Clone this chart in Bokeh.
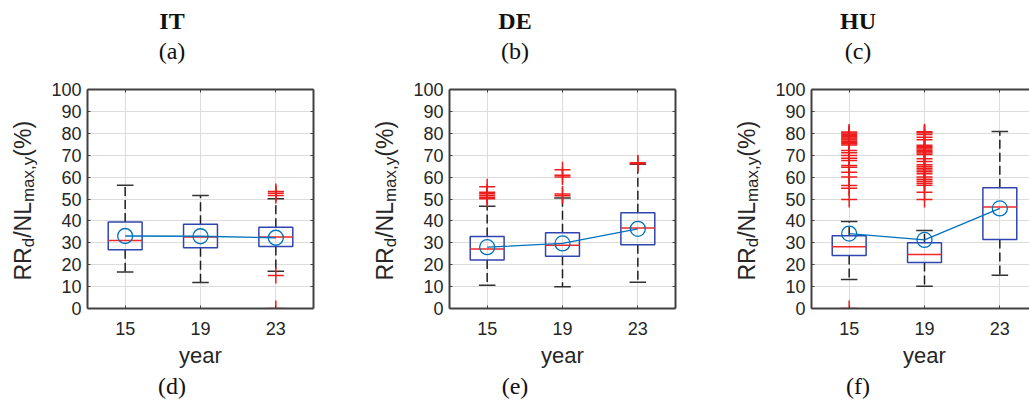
import math
from bokeh.plotting import figure
from bokeh.layouts import row, column
from bokeh.models import Range1d, FixedTicker, SingleIntervalTicker, LinearAxis, Label, ColumnDataSource
from bokeh.embed import file_html
from bokeh.resources import INLINE

years = ["15", "19", "23"]

# ---- IT ----
it_q1 = [26.8, 27.7, 28.3]
it_med = [31.0, 32.6, 32.6]
it_q3 = [39.5, 38.5, 37.1]
it_wlo = [16.7, 11.9, 17.0]
it_whi = [56.3, 51.6, 50.1]
it_mean = [33.1, 33.0, 32.3]
it_out = [[], [], [53.4, 52.6, 51.6, 15.1, 0.0]]

# ---- DE ----
de_q1 = [22.2, 23.9, 29.1]
de_med = [27.2, 28.9, 36.8]
de_q3 = [32.9, 34.6, 43.7]
de_wlo = [10.6, 9.9, 12.0]
de_whi = [46.7, 50.4, 65.9]
de_mean = [28.0, 29.7, 36.4]
de_out = [[55.6, 53.1, 52.4, 51.6, 50.8, 50.1],
          [63.3, 60.8, 60.0, 52.3, 51.5],
          [66.5, 66.1]]

# ---- HU ----
hu_q1 = [24.2, 21.0, 31.5]
hu_med = [28.2, 24.7, 46.3]
hu_q3 = [33.2, 30.0, 55.1]
hu_wlo = [13.2, 10.2, 15.2]
hu_whi = [39.7, 35.6, 80.8]
hu_mean = [34.2, 31.3, 45.7]
hu_out = [[80.6, 80.1, 79.6, 79.0, 78.4, 77.9, 77.4, 76.9, 76.3, 75.8, 75.2, 74.7,
           72.1, 71.1, 69.9, 68.6, 67.6, 65.3, 64.5, 62.2, 60.0, 56.2, 54.9, 49.8, 0.0],
          [80.7, 80.2, 79.5, 78.2, 77.0, 74.6, 74.0, 73.4, 72.8, 72.2, 71.6, 71.0, 70.3,
           68.4, 67.1, 65.6, 64.8, 64.0, 63.2, 62.4, 61.5, 60.0, 59.0, 58.1, 57.2, 56.3,
           53.1, 49.8],
          []]

AX = "#404040"
TXT = "#262626"
SANS = "Liberation Sans"
SERIF = "Liberation Serif"

CHUNK_W = 343
TOP_H = 80      # canvas rows 0..80
MID_H = 260     # canvas rows 80..340
BOT_H = 63      # canvas rows 340..403
FRAME_TOP = 89
FRAME_BOT = 308
MAIN_LEFT = 42
BASE_FIX = 8.5   # label baseline correction (px)


def style_axis(ax, show_labels=True):
    ax.axis_line_color = AX
    ax.axis_line_width = 2
    ax.major_tick_line_color = AX
    ax.major_tick_line_width = 1
    ax.major_tick_in = 3
    ax.major_tick_out = 0
    ax.minor_tick_in = 0
    ax.minor_tick_out = 0
    ax.minor_tick_line_color = None
    ax.major_label_text_font = SANS
    if show_labels:
        ax.major_label_text_font_size = "18px"
        ax.major_label_text_color = TXT
    else:
        ax.major_label_text_font_size = "1px"
        ax.major_label_text_color = None
        ax.major_label_standoff = 0


def text_fig(w, h):
    f = figure(width=w, height=h, output_backend="svg", toolbar_location=None,
               x_range=Range1d(0, 1), y_range=Range1d(0, 1),
               x_axis_type=None, y_axis_type=None, title=None,
               min_border_left=0, min_border_right=0, min_border_top=0, min_border_bottom=0)
    f.outline_line_color = None
    f.grid.visible = False
    return f


def lab(f, x, y, text, font, size, color, align="center", style="normal", angle=0.0):
    f.add_layout(Label(x=x, y=y, x_units="screen", y_units="screen", text=text,
                       text_font=font, text_font_size=f"{size}px", text_font_style=style,
                       text_color=color, text_align=align, text_baseline="alphabetic",
                       angle=angle))


def panel(name, top_tag, bot_tag, q1, med, q3, wlo, whi, mean, outs,
          b_left, b_right, x_end, show_right):
    # ---- main plot ----
    main_w = CHUNK_W - (b_left - MAIN_LEFT)
    p = figure(width=main_w, height=MID_H, output_backend="svg", toolbar_location=None,
               x_range=Range1d(0.5, x_end), y_range=Range1d(0, 100),
               min_border_left=MAIN_LEFT, min_border_right=b_right,
               min_border_top=FRAME_TOP - TOP_H,
               min_border_bottom=TOP_H + MID_H - FRAME_BOT, title=None)
    p.outline_line_color = None

    xs = [i + 1 for i in range(len(years))]
    overrides = {x: y for x, y in zip(xs, years)}

    p.xaxis.ticker = FixedTicker(ticks=xs)
    p.xaxis.major_label_overrides = overrides
    p.yaxis.ticker = SingleIntervalTicker(interval=10)
    for ax in p.xaxis:
        style_axis(ax)
        ax.major_label_standoff = 13
    for ax in p.yaxis:
        style_axis(ax)
        ax.major_label_standoff = 6

    top = LinearAxis(ticker=FixedTicker(ticks=xs))
    style_axis(top, show_labels=False)
    p.add_layout(top, "above")
    if show_right:
        right = LinearAxis(ticker=SingleIntervalTicker(interval=10))
        style_axis(right, show_labels=False)
        p.add_layout(right, "right")

    p.xgrid.grid_line_color = "#dcdcdc"
    p.ygrid.grid_line_color = "#dcdcdc"

    hw = 0.225
    cw = 0.11
    src = ColumnDataSource(dict(
        x=xs, q1=q1, med=med, q3=q3, wlo=wlo, whi=whi, mean=mean,
        l=[x - hw for x in xs], r=[x + hw for x in xs],
        cl=[x - cw for x in xs], cr=[x + cw for x in xs]))

    wc = "#1e1e1e"
    p.segment(x0="x", y0="q3", x1="x", y1="whi", source=src, line_color=wc,
              line_width=1.5, line_dash="9 4")
    p.segment(x0="x", y0="q1", x1="x", y1="wlo", source=src, line_color=wc,
              line_width=1.5, line_dash="9 4")
    p.segment(x0="cl", y0="whi", x1="cr", y1="whi", source=src, line_color="#333333", line_width=1.5)
    p.segment(x0="cl", y0="wlo", x1="cr", y1="wlo", source=src, line_color="#333333", line_width=1.5)
    p.quad(left="l", right="r", bottom="q1", top="q3", source=src, fill_color=None,
           line_color="#2f45b0", line_width=1.5)
    p.segment(x0="l", y0="med", x1="r", y1="med", source=src, line_color="#ee2a2a", line_width=1.5)

    ox, oy = [], []
    for x, vals in zip(xs, outs):
        for v in vals:
            ox.append(x)
            oy.append(v)
    p.scatter(ox, oy, marker="cross", size=16, line_color="#ee1c1c", line_width=1.5)

    p.line("x", "mean", source=src, line_color="#0072BD", line_width=1.3)
    p.scatter("x", "mean", source=src, marker="circle", size=15, fill_color=None,
              line_color="#0072BD", line_width=1.3)

    # ---- y label strip (left of main plot) ----
    ylw = b_left - MAIN_LEFT
    yl = text_fig(ylw, MID_H)
    base_x = b_left - 65
    pieces = [("RR", 23, 0), ("d", 17, 6), ("/NL", 23, 0), ("max,y", 17, 6), ("(%)", 23, 0)]
    widths = {"RR": 2 * 0.722, "d": 0.556, "/NL": 0.278 + 0.722 + 0.556,
              "max,y": 0.833 + 0.556 + 0.5 + 0.278 + 0.5, "(%)": 0.333 + 0.889 + 0.333}
    yy = (TOP_H + MID_H) - 280 - 32
    for t, fs, dx in pieces:
        lab(yl, base_x + dx, yy, t, SANS, fs, TXT, align="left", angle=math.pi / 2)
        yy += widths[t] * fs

    # ---- title strip ----
    tf = text_fig(CHUNK_W, TOP_H)
    cx = CHUNK_W / 2
    lab(tf, cx, TOP_H - 29.3 + BASE_FIX, name, SERIF, 24, "#111111", style="bold")
    lab(tf, cx, TOP_H - 58.5 + BASE_FIX, top_tag, SERIF, 24, "#111111")

    # ---- bottom strip ----
    bf = text_fig(CHUNK_W, BOT_H)
    fcx = b_left + 113
    lab(bf, fcx, 403 - 363 + BASE_FIX, "year", SANS, 22, TXT)
    lab(bf, cx, 403 - 393.5 + BASE_FIX, bot_tag, SERIF, 24, "#111111")

    return column(tf, row(yl, p), bf)


c1 = panel("IT", "(a)", "(d)", it_q1, it_med, it_q3, it_wlo, it_whi, it_mean, it_out,
           87, 30, 3.5, True)
c2 = panel("DE", "(b)", "(e)", de_q1, de_med, de_q3, de_wlo, de_whi, de_mean, de_out,
           106, 11, 3.5, True)
c3 = panel("HU", "(c)", "(f)", hu_q1, hu_med, hu_q3, hu_wlo, hu_whi, hu_mean, hu_out,
           125, 0, 0.5 + 3 * 218 / 226, False)

layout = row(c1, c2, c3)
open("out.html", "w").write(file_html(layout, INLINE))
